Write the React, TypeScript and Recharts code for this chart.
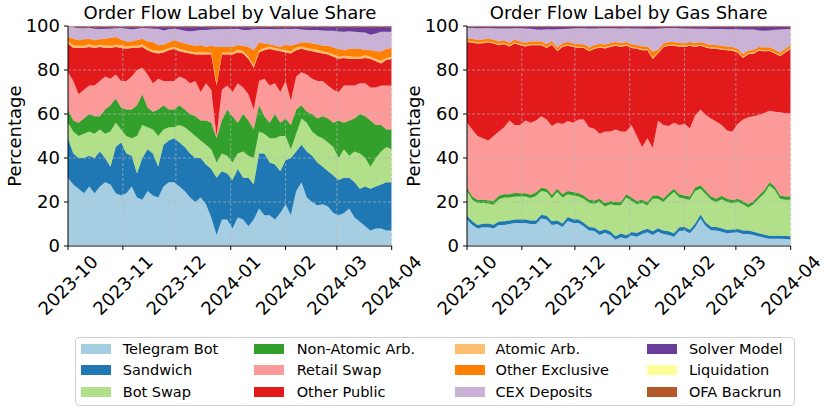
import React from 'react';
import { AreaChart, Area, XAxis, YAxis, ReferenceLine } from 'recharts';

// Day offsets from 2023-10-01 (one sample every 3 days)
const days = [0,3,6,9,12,15,18,21,24,27,30,33,36,39,42,45,48,51,54,57,60,63,66,69,72,75,78,81,84,87,90,93,96,99,102,105,108,111,114,117,120,123,126,129,132,135,138,141,144,147,150,153,156,159,162,165,168,171,174,177,180,183];
const monthTicks = [0,31,61,92,123,152,183];
const monthLabels = ['2023-10','2023-11','2023-12','2024-01','2024-02','2024-03','2024-04'];
const yTicks = [0,20,40,60,80,100];
const gridY = [20,40,60,80,100];
const gridX = [31,61,92,123,152,183];

const seriesNames = ['Telegram Bot','Sandwich','Bot Swap','Non-Atomic Arb.','Retail Swap','Other Public','Atomic Arb.','Other Exclusive','CEX Deposits','Solver Model','Liquidation','OFA Backrun'];
const seriesColors = ['#a6cee3','#1f78b4','#b2df8a','#33a02c','#fb9a99','#e31a1c','#fdbf6f','#ff7f00','#cab2d6','#6a3d9a','#ffff99','#b15928'];

// ---------- Value share (%) ----------
const valueTelegramBot = [31,28,26,24,27,24,27,29,28,24, 23,24,27,22,21,25,23,22,27,29, 29,27,25,22,20,22,19,13,5,12, 12,8,13,12,9,12,17,14,14,12, 15,19,14,25,29,22,20,18.5,19,18, 15,14,15,17,13,11,9,7,8,8, 7,7];
const valueSandwich = [18,14,14,16,14,16,16,11,8,21, 24,18,14,11,19,19,19,14,19,19, 20,20,20,20,20,18,18,22,26,22, 21,22,22,19,22,16,25,28,24,25, 19,20,26,18,17,21,21,19.5,17,16, 17,16,16,14,16,15,18,19,19,20, 22,22];
const valueBotSwap = [7,10,10,11,11,11,10,11,16,11, 6,8,8,17,15,10,11,14,7,6, 5,8,9,10,10,8,9,9,7,8, 8,8,7,12,10,12,10,9,11,12, 16,11,4,8,12,13,11,12,13,13, 13,10,13,10,14,16,13,10,13,15, 16,15];
const valueNonAtomicArb = [6,5,6,7,8,8,6,11,12,11, 10,12,13,14,14,9,8,12,11,8, 8,9,8,8,9,9,11,12,11,15, 21,21,14,17,16,13,12,8,7,11, 6,8,11,11,6,5,8,8,10,11, 11,17,12,16,15,18,19,21,15,12, 8,9];
const valueRetailSwap = [17,18,13,13,13,14,16,15,12,11, 12,13,15,16,12,15,13,14,11,13, 13,13,14,14,16,13,17,15,1,14, 11,11,18,12,12,9,11,17,17,14, 14,17,11,15,15,17,16,17,16,15, 15,13,17,16,15,14,15,15,17,18, 20,20];
const valueOtherPublic = [13,15,21,19,17.5,17,15.5,13,14,12.5, 15,14.7,13,10,9.5,11,14,11.5,13,14, 14.5,11.5,12,13.5,12,17,13,16,23,16, 14,17,14,15.5,16,19,13,13,16.5,15, 18.5,13,21.5,12,10.7,11,12.5,13,12.5,14, 15,15,12.5,12,12,11,11.5,13,12,10, 11.5,12];
const valueAtomicArb = [1,1.2,1,1,1.2,1,1,1.2,1,1, 1.2,1,1,1,1.2,1,1,1.2,1,1, 1,1.2,1,1,1,1.2,1,1,1,1, 1,1,1.2,1,1,1,1,1,1.2,1, 1,1,1,1.2,1,1,1,1.2,1,1, 1.2,1,1,1.2,1,1,1.2,1,1,1.2, 1,1];
const valueOtherExclusive = [2,3,2.5,3,2.5,2.5,2.5,3,3.5,3.5, 2.5,2.3,2,2.5,2.5,3,3.7,2.5,2.5,2.5, 3,3,3,3,3,3,2.5,3,16.5,2.5, 2.5,2.5,2,2.5,4.5,7,3.5,2,1,1, 1,2.5,2.5,1.5,1.8,2.5,2.5,2.5,2.5,3, 3,3.5,2.5,3.5,3.5,3.5,2.5,3,3.5,4.2, 4,4];
const valueCexDeposits = [4.5,5.2,5.5,5,5,5.3,4.6,4.6,4.3,4, 5.5,5.8,5.5,5.3,5,6,6.1,7.5,6.5,6, 5.3,5.7,5.8,6.1,6.8,7,7.7,7.4,8,8.1, 8.1,8.1,7.5,7.2,7.7,9.5,6.1,6.6,6.9,7.5, 8.1,7.1,7.6,7,5.9,5.7,6.2,6.5,7,6.8, 7.6,8,8.4,7.9,7.9,7.7,7.8,7,8.1,9, 7.9,7.4];
const valueSolverModel = [0.3,0.4,0.6,0.6,0.6,0.8,1,1,0.8,0.6, 0.6,0.8,1.1,0.8,0.6,0.6,0.8,1.1,1.6,1.1, 0.8,1.4,1.8,2,1.8,1.6,1.4,1.2,1.1,1, 1,1,1.1,1.4,1.4,1.1,1,1,1.2,1.1, 1,1,1,1.1,1.2,1.4,1.4,1.6,1.6,1.8, 2,2.1,2.2,2.2,2.2,2.4,2.8,3.6,3,2.4, 2.2,2.2];
const valueLiquidation = [0.05,0.05,0.05,0.05,0.05,0.05,0.05,0.05,0.05,0.05, 0.05,0.05,0.05,0.05,0.05,0.05,0.05,0.05,0.05,0.05, 0.05,0.05,0.05,0.05,0.05,0.05,0.05,0.05,0.05,0.05, 0.05,0.05,0.05,0.05,0.05,0.05,0.05,0.05,0.05,0.05, 0.05,0.05,0.05,0.05,0.05,0.05,0.05,0.05,0.05,0.05, 0.05,0.05,0.05,0.05,0.05,0.05,0.05,0.05,0.05,0.05, 0.05,0.05];
const valueOfaBackrun = [0.25,0.25,0.3,0.3,0.25,0.3,0.3,0.25,0.3,0.3, 0.3,0.3,0.3,0.3,0.3,0.3,0.3,0.3,0.3,0.3, 0.3,0.3,0.3,0.3,0.3,0.3,0.3,0.3,0.3,0.3, 0.3,0.3,0.3,0.3,0.3,0.3,0.3,0.3,0.3,0.3, 0.3,0.3,0.3,0.3,0.3,0.3,0.3,0.3,0.3,0.3, 0.3,0.3,0.3,0.3,0.3,0.3,0.3,0.3,0.3,0.3, 0.3,0.3];

// ---------- Gas share (%) ----------
const gasTelegramBot = [12,9.5,8,8.5,8.5,8,9.5,9.5,10,10.5, 10.5,10.5,10,10,12.5,12,9.5,10,8.6,11.5, 10.5,10.5,9,7,6.8,5,6,5,2.8,4, 3.3,4.8,4.2,5.5,6.2,5,6.5,5.5,5,4.2, 6.8,7,5.8,8.5,12.5,9,7.2,7,6.5,5.8, 6,6.2,5.5,5.5,5,4.3,3.8,3.3,3.3,3.3, 3.2,3];
const gasSandwich = [1.8,1.7,1.6,1.6,1.7,1.7,1.6,1.7,1.6,1.6, 1.7,1.6,1.6,1.6,1.7,1.7,1.7,1.6,1.6,1.7, 1.7,1.7,1.6,1.6,1.6,1.7,1.6,1.7,1.6,1.7, 1.6,1.6,1.7,1.6,1.6,1.7,1.6,1.6,1.7,1.6, 1.7,1.6,1.6,1.7,1.8,1.7,1.6,1.6,1.6,1.5, 1.5,1.5,1.5,1.5,1.5,1.5,1.4,1.4,1.4,1.4, 1.4,1.4];
const gasBotSwap = [11.2,9.8,9.9,9.4,9.1,9.1,10.2,10.8,10.4,10.4, 10.3,10.4,10.2,11.1,10.8,10.8,10.5,12.9,11.8,10.3, 10.8,10.3,10.9,10.9,10.8,13.3,10.4,12.3,14.1,12.8, 17.1,14.1,13.1,12.4,10.7,14.8,13.4,12.9,15.8,18.7, 13.5,12.9,13.6,14.8,11.7,12.8,12.2,11.4,13.2,12.7, 11.9,12.3,12,10.5,12.5,15.7,18.6,22.8,20.8,16.8, 16.4,16.6];
const gasNonAtomicArb = [1.5,1.5,1.4,1.5,1.5,1.6,1.5,1.5,1.5,1.6, 1.5,1.5,1.5,1.6,1.5,1.5,1.5,1.5,1.5,1.5, 1.5,1.5,1.5,1.5,1.5,1.5,1.5,1.5,1.5,1.5, 1.5,1.5,1.5,1.5,1.5,1.5,1.5,1.5,1.5,1.5, 1.5,1.5,1.5,1.6,1.6,1.5,1.5,1.5,1.5,1.5, 1.5,1.5,1.5,1.5,1.5,1.5,1.5,1.5,1.5,1.5, 1.5,1.5];
const gasRetailSwap = [29.5,30.5,29.1,28,27.2,29.6,29.2,30.5,33.5,30.9, 31,33,32.7,32.7,32.5,31.5,31.3,30,32,31.8, 31.5,33.5,34.5,33,32.6,29.5,32.5,31.5,33,32, 28.5,33,29.5,24,29,21.5,34,33.5,30.5,30, 31.5,32.5,31,32.8,34.4,34.5,35.5,35,32.2,31, 31.1,34,37,39.5,38.5,36.5,35.2,32.5,34,37.8, 37.8,37.8];
const gasOtherPublic = [36.7,39.4,42,43.2,44.5,42,39.3,37.7,33.7,37, 36.3,33.7,35.2,34.2,32.2,32.5,37,32.5,35,34.2, 34.5,32.5,32.5,34.5,36.2,39.2,37.8,38.5,38,38.5, 39,35,39.7,44,40,40.5,30.5,35.3,36.5,35, 35.6,35,37.5,31.1,29,30.7,31.7,33.2,34.2,36.5, 36.8,32.5,28,28.7,28.4,29.3,28,27.1,26.5,25.4, 27.7,29.4];
const gasAtomicArb = [0.5,0.5,0.5,0.5,0.5,0.5,0.5,0.5,0.5,0.5, 0.5,0.5,0.5,0.5,0.5,0.5,0.5,0.5,0.5,0.5, 0.5,0.5,0.5,0.5,0.5,0.5,0.5,0.5,0.5,0.5, 0.5,0.5,0.5,0.5,0.5,0.8,0.5,0.5,0.5,0.5, 0.5,0.5,0.5,0.5,0.5,0.5,0.5,0.5,0.5,0.5, 0.5,0.5,0.5,0.5,0.5,0.5,0.5,0.5,0.5,0.5, 0.5,0.5];
const gasOtherExclusive = [1.2,1.2,1.2,1.2,1.2,1.2,1.2,1.2,1.2,1.2, 1.2,1.2,1.2,1.2,1.2,1.2,1.2,1.2,1.2,1.2, 1.2,1.2,1.2,1.2,1.2,1.2,1.2,1.2,1.2,1.2, 1.2,1.2,1.2,1.2,1.2,2.5,1.2,1.2,1.2,1.2, 1.2,1.2,1.2,1.2,1.2,1.2,1.2,1.2,1.2,1.2, 1.2,1.2,1.2,1.2,1.2,1.2,1.2,1.2,1.2,1.2, 1.2,1.2];
const gasCexDeposits = [4.8,5,5.3,5.1,4.9,5.3,5.9,5.5,6.5,5.3, 6,6.5,5.9,5.5,5.4,6.8,5.2,8.3,6.4,6.1, 6.7,7.3,7.3,8.7,7.7,7.1,7.5,6.8,6.3,6.7, 6.3,7.2,7.5,8.2,8.1,10.5,9.7,7,6.4,6.4, 6.7,6.7,6.2,6.6,6.1,6.8,7.2,7.2,7.7,7.8, 8,8.8,11.2,9.5,9.3,7.5,7.6,7.7,9.1,10.5, 8.8,7.1];
const gasSolverModel = [0.5,0.6,0.7,0.7,0.6,0.7,0.8,0.8,0.8,0.7, 0.7,0.8,0.9,1.3,1.4,1.2,1.3,1.2,1.1,0.9, 0.8,0.7,0.7,0.8,0.8,0.7,0.7,0.7,0.7,0.8, 0.7,0.8,0.8,0.8,0.9,0.9,0.8,0.7,0.6,0.6, 0.7,0.8,0.8,0.9,0.9,1,1.1,1.1,1.1,1.2, 1.2,1.2,1.3,1.3,1.3,1.7,1.9,1.7,1.4,1.3, 1.2,1.2];
const gasLiquidation = [0.05,0.05,0.05,0.05,0.05,0.05,0.05,0.05,0.05,0.05, 0.05,0.05,0.05,0.05,0.05,0.05,0.05,0.05,0.05,0.05, 0.05,0.05,0.05,0.05,0.05,0.05,0.05,0.05,0.05,0.05, 0.05,0.05,0.05,0.05,0.05,0.05,0.05,0.05,0.05,0.05, 0.05,0.05,0.05,0.05,0.05,0.05,0.05,0.05,0.05,0.05, 0.05,0.05,0.05,0.05,0.05,0.05,0.05,0.05,0.05,0.05, 0.05,0.05];
const gasOfaBackrun = [0.2,0.2,0.2,0.2,0.2,0.2,0.2,0.2,0.2,0.2, 0.2,0.2,0.2,0.2,0.2,0.2,0.2,0.2,0.2,0.2, 0.2,0.2,0.2,0.2,0.2,0.2,0.2,0.2,0.2,0.2, 0.2,0.2,0.2,0.2,0.2,0.2,0.2,0.2,0.2,0.2, 0.2,0.2,0.2,0.2,0.2,0.2,0.2,0.2,0.2,0.2, 0.2,0.2,0.2,0.2,0.2,0.2,0.2,0.2,0.2,0.2, 0.2,0.2];

const valueSeries = [valueTelegramBot, valueSandwich, valueBotSwap, valueNonAtomicArb, valueRetailSwap, valueOtherPublic, valueAtomicArb, valueOtherExclusive, valueCexDeposits, valueSolverModel, valueLiquidation, valueOfaBackrun];
const gasSeries = [gasTelegramBot, gasSandwich, gasBotSwap, gasNonAtomicArb, gasRetailSwap, gasOtherPublic, gasAtomicArb, gasOtherExclusive, gasCexDeposits, gasSolverModel, gasLiquidation, gasOfaBackrun];

function buildRows(series: number[][]) {
  return days.map((d, i) => {
    const row: Record<string, number> = { day: d };
    series.forEach((arr, k) => { row['s' + k] = arr[i]; });
    return row;
  });
}

const FONT = '"DejaVu Sans", Verdana, sans-serif';

const MonthTick = (props: any) => {
  const { x, y, payload } = props;
  const idx = monthTicks.indexOf(payload.value);
  const cy = y + 32;
  return (
    <text x={x} y={cy} transform={`rotate(-45, ${x}, ${cy})`} textAnchor="middle" dominantBaseline="central" fontSize={18} fill="#000" fontFamily={FONT}>
      {monthLabels[idx]}
    </text>
  );
};

function Panel({ rows, title, left }: { rows: any[]; title: string; left: number }) {
  return (
    <div style={{ position: 'absolute', left, top: 0, width: 432, height: 330 }}>
      <div style={{ position: 'absolute', left: 68, top: 2, width: 324, textAlign: 'center', fontSize: 18, lineHeight: '22px', color: '#000', whiteSpace: 'nowrap' }}>{title}</div>
      <div style={{ position: 'absolute', left: -45, top: 125, width: 120, height: 22, lineHeight: '22px', fontSize: 18, textAlign: 'center', transform: 'rotate(-90deg)', color: '#000' }}>Percentage</div>
      <AreaChart width={432} height={330} data={rows} margin={{ top: 26, right: 40.3, bottom: 4, left: 8 }}>
        <XAxis dataKey="day" type="number" domain={[0, 183]} ticks={monthTicks} interval={0} tick={<MonthTick />} tickSize={4} tickMargin={3} height={80} axisLine={{ stroke: '#808080', strokeWidth: 2 }} tickLine={{ stroke: '#000' }} allowDataOverflow />
        <YAxis type="number" domain={[0, 100]} ticks={yTicks} interval={0} width={60} tickSize={4} tickMargin={4} tick={{ fontSize: 18, fill: '#000', fontFamily: FONT }} axisLine={{ stroke: '#000' }} tickLine={{ stroke: '#000' }} allowDataOverflow />
        {seriesNames.map((name, k) => (
          <Area key={name} name={name} dataKey={'s' + k} stackId="a" type="linear" fill={seriesColors[k]} fillOpacity={1} stroke={seriesColors[k]} strokeWidth={0.5} isAnimationActive={false} dot={false} activeDot={false} />
        ))}
        {gridY.map((v) => (
          <ReferenceLine key={'gy' + v} y={v} stroke="#b8b8b8" strokeOpacity={0.8} strokeDasharray="3 2" strokeWidth={0.8} />
        ))}
        {gridX.map((v) => (
          <ReferenceLine key={'gx' + v} x={v} stroke="#b8b8b8" strokeOpacity={0.8} strokeDasharray="3 2" strokeWidth={0.8} />
        ))}
      </AreaChart>
    </div>
  );
}

const legendCols = [
  { patch: 81, text: 122.7 },
  { patch: 254.3, text: 296.7 },
  { patch: 454.5, text: 495.5 },
  { patch: 647.3, text: 688.9 },
];
const legendRows = [348.7, 370.3, 392];

export default function App() {
  const valueRows = buildRows(valueSeries);
  const gasRows = buildRows(gasSeries);
  return (
    <div style={{ position: 'absolute', left: 0, top: 0, width: 831, height: 413, background: '#fff', fontFamily: FONT, overflow: 'hidden' }}>
      <Panel rows={valueRows} title="Order Flow Label by Value Share" left={0} />
      <Panel rows={gasRows} title="Order Flow Label by Gas Share" left={398.7} />
      <div style={{ position: 'absolute', left: 75, top: 337, width: 720, height: 69, border: '1px solid #d0d0d0', borderRadius: 4, boxSizing: 'border-box' }} />
      {seriesNames.map((name, k) => {
        const col = legendCols[Math.floor(k / 3)];
        const cy = legendRows[k % 3];
        return (
          <React.Fragment key={name}>
            <div style={{ position: 'absolute', left: col.patch, top: cy - 5.2, width: 30, height: 10.4, background: seriesColors[k] }} />
            <div style={{ position: 'absolute', left: col.text, top: cy - 10, height: 20, lineHeight: '20px', fontSize: 14.5, color: '#000', whiteSpace: 'nowrap' }}>{name}</div>
          </React.Fragment>
        );
      })}
    </div>
  );
}
